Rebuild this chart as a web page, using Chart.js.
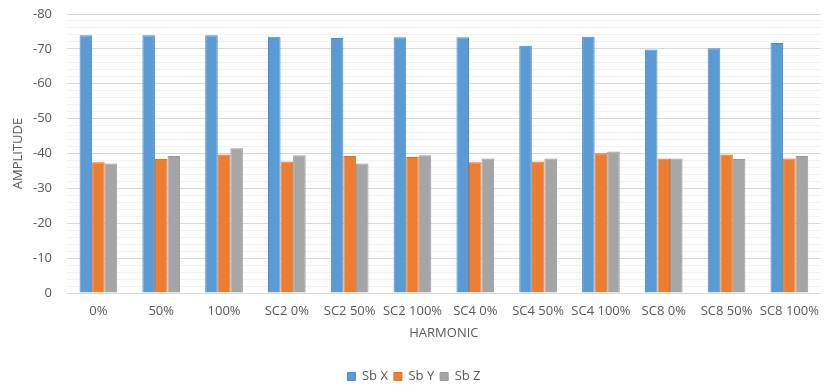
<!DOCTYPE html>
<html>
<head>
<meta charset="utf-8">
<script src="https://cdn.jsdelivr.net/npm/chart.js@4"></script>
<style>
  html, body { margin: 0; padding: 0; background: #fff; }
</style>
</head>
<body>
<canvas id="chart" width="829" height="385"></canvas>
<script>
// データ
const harmonics = ['0%', '50%', '100%', 'SC2 0%', 'SC2 50%', 'SC2 100%', 'SC4 0%', 'SC4 50%', 'SC4 100%', 'SC8 0%', 'SC8 50%', 'SC8 100%'];
const sbX = [-73.9, -73.9, -73.9, -73.5, -73.1, -73.3, -73.3, -70.9, -73.5, -69.8, -70.2, -71.7];
const sbY = [-37.5, -38.4, -39.7, -37.7, -39.3, -39.0, -37.5, -37.7, -40.1, -38.6, -39.7, -38.6];
const sbZ = [-37.1, -39.3, -41.5, -39.5, -37.1, -39.5, -38.6, -38.6, -40.6, -38.6, -38.4, -39.3];
const yMin = -80;
const yMax = 0;

const textColor = '#595959';
const fontFamily = '"Open Sans", "Liberation Sans", sans-serif';

new Chart(document.getElementById('chart').getContext('2d'), {
    type: 'bar',
    data: {
        labels: harmonics,
        datasets: [
            { label: 'Sb X', data: sbX, backgroundColor: '#5B9BD5', borderColor: '#4A8ACB', borderWidth: 1 },
            { label: 'Sb Y', data: sbY, backgroundColor: '#ED7D31', borderColor: '#E0701F', borderWidth: 1 },
            { label: 'Sb Z', data: sbZ, backgroundColor: '#A5A5A5', borderColor: '#999999', borderWidth: 1 }
        ]
    },
    options: {
        responsive: false,
        animation: false,
        layout: { padding: { top: 14, right: 1, left: 0, bottom: -8 } },
        datasets: {
            bar: { categoryPercentage: 0.6, barPercentage: 1.0 }
        },
        scales: {
            x: {
                afterFit: scale => { scale.height = 71; },
                grid: { display: false, drawTicks: false },
                border: { display: false },
                ticks: {
                    color: textColor,
                    font: { family: fontFamily, size: 13 },
                    maxRotation: 0,
                    autoSkip: false,
                    padding: 10
                },
                title: {
                    display: true,
                    text: 'HARMONIC',
                    color: textColor,
                    font: { family: fontFamily, size: 13 },
                    padding: { top: 4, bottom: 23 }
                }
            },
            y: {
                reverse: true,
                min: yMin,
                max: yMax,
                afterFit: scale => {
                    scale.width = 67;
                    scale.paddingTop = 0;
                    scale.paddingBottom = 0;
                },
                border: { display: false },
                grid: {
                    drawTicks: false,
                    color: ctx => (ctx.tick && ctx.tick.value % 10 === 0) ? '#D9D9D9' : '#F2F2F2',
                    lineWidth: 1
                },
                ticks: {
                    stepSize: 2,
                    autoSkip: false,
                    padding: 15,
                    color: textColor,
                    font: { family: fontFamily, size: 13 },
                    callback: v => (v % 10 === 0 ? String(v) : '')
                },
                title: {
                    display: true,
                    text: 'AMPLITUDE',
                    color: textColor,
                    font: { family: fontFamily, size: 13 },
                    padding: { top: 10, bottom: 0 }
                }
            }
        },
        plugins: {
            legend: {
                position: 'bottom',
                labels: {
                    boxWidth: 8,
                    boxHeight: 8,
                    padding: 6,
                    color: textColor,
                    font: { family: fontFamily, size: 13 }
                }
            },
            tooltip: { enabled: false }
        }
    }
});
</script>
</body>
</html>
